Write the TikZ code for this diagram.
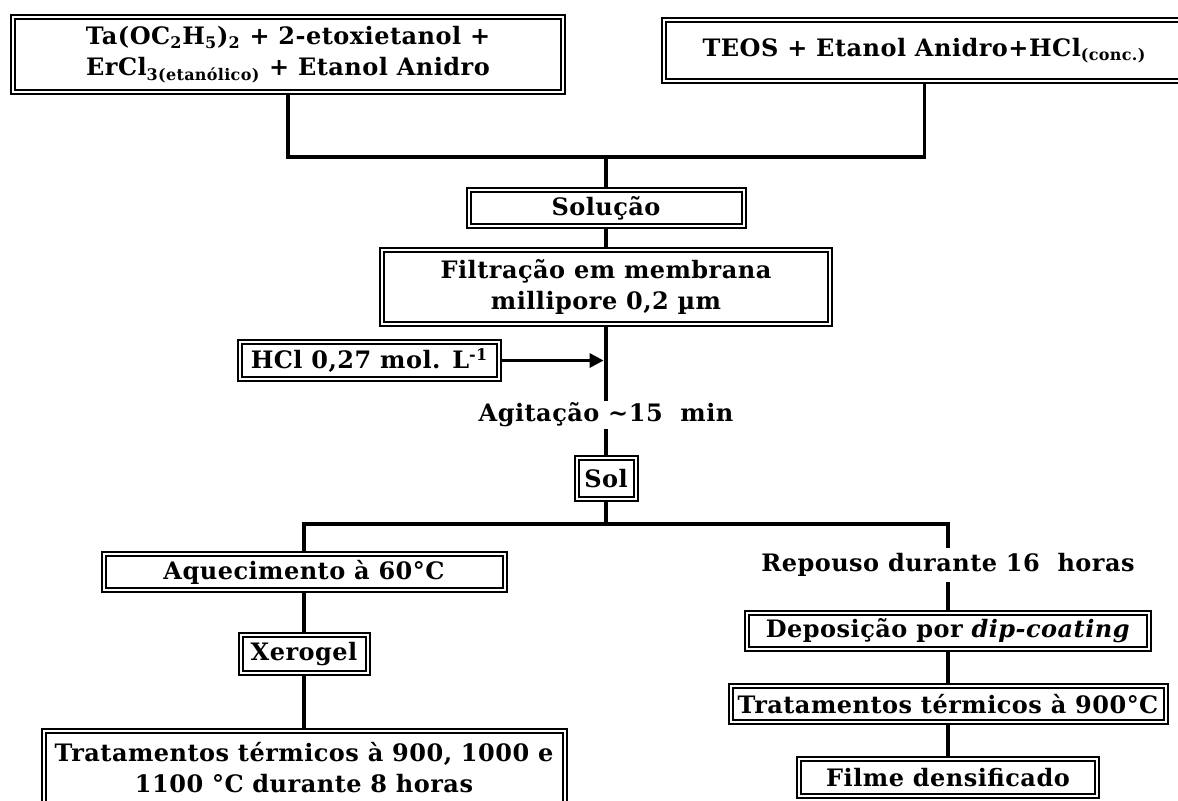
\documentclass[tikz,border=0pt]{standalone}
\usepackage{fontspec}
\setmainfont{DejaVu Serif}[LetterSpace=2]
\usepackage{tikz}
\usetikzlibrary{arrows.meta}

\begin{document}
\begin{tikzpicture}[x=0.5pt,y=-0.5pt,
		stage/.style={draw,double,double distance=1pt,line width=1pt,inner sep=0pt,align=center,font=\bfseries\fontsize{12}{15.5}\selectfont},
		lbl/.style={inner sep=0pt,font=\bfseries\fontsize{12}{15.5}\selectfont},
		flow/.style={line width=1.6pt}]
		  \useasboundingbox (0,0) rectangle (1178,800);
		  \node[stage,minimum width=275pt,minimum height=37.5pt] (ingr) at (288,54.5) {Ta(OC\textsubscript{2}H\textsubscript{5})\textsubscript{2} + 2-etoxietanol +\\ErCl\textsubscript{3(etanólico)} + Etanol Anidro};
		  \node[stage,minimum width=260.5pt,minimum height=30.5pt] (teos) at (924.5,50.5) {TEOS + Etanol Anidro+HCl\textsubscript{(conc.)}};
		  \node[stage,minimum width=137.5pt,minimum height=18pt] (soluc) at (606,208) {Solução};
		  \node[stage,minimum width=224pt,minimum height=37pt] (filt) at (606,287) {Filtração em membrana\\millipore 0,2 µm};
		  \node[stage,minimum width=129.5pt,minimum height=18.5pt] (hcl) at (369.5,360.5) {HCl 0,27 mol. L\textsuperscript{-1}};
		  \node[lbl,minimum height=14pt] (agit) at (606,415) {Agitação \textasciitilde15\ \ min};
		  \node[stage,minimum width=29.5pt,minimum height=20.5pt] (sol) at (606,478.5) {Sol};
		  \node[stage,minimum width=200.5pt,minimum height=18pt] (aquec) at (304,572) {Aquecimento à 60°C};
		  \node[stage,minimum width=63.5pt,minimum height=19pt] (xero) at (304,654) {Xerogel};
		  \node[stage,minimum width=260.5pt,minimum height=37pt] (tratxero) at (304,768) {Tratamentos térmicos à 900, 1000 e\\1100 °C durante 8 horas};
		  \node[lbl,minimum height=17pt] (repou) at (948,565) {Repouso durante 16\ \ horas};
		  \node[stage,minimum width=201pt,minimum height=18pt] (depo) at (948,631) {Deposição por \textit{dip-coating}};
		  \node[stage,minimum width=217.5pt,minimum height=18pt] (tratfilm) at (948,704) {Tratamentos térmicos à 900°C};
		  \node[stage,minimum width=149pt,minimum height=18.5pt] (filme) at (948,777.5) {Filme densificado};
		  \coordinate (junc) at (606,157);
		  \coordinate (fork) at (606,524);
		  \draw[flow] (ingr.south) |- (junc) -| (teos.south);
		  \draw[flow] (junc) -- (soluc.north);
		  \draw[flow] (aquec.north) |- (fork) -| (repou.north);
		  \foreach \alpha/\alphb in {soluc/filt,filt/agit,agit/sol,sol/fork,aquec/xero,xero/tratxero,repou/depo,depo/tratfilm,tratfilm/filme}
		  {%
		   \draw[flow] (\alpha.south) -- (\alphb.north);%
		  }
		  \draw[flow,-{Triangle[length=7pt,width=7pt]},shorten >=1.2pt] (hcl.east) -- (hcl.east -| filt.south);
		 \end{tikzpicture}
\end{document}
